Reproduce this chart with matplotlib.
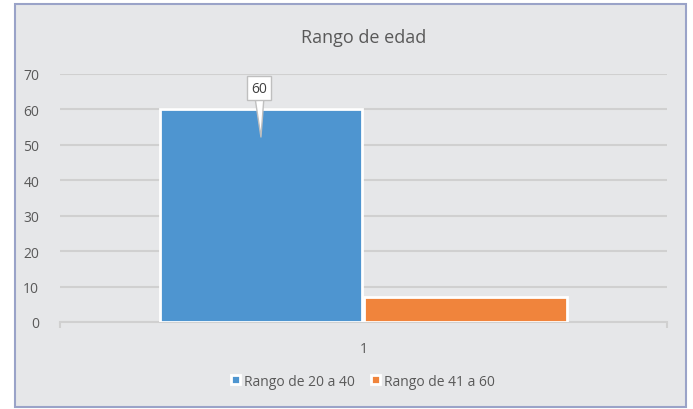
import matplotlib.pyplot as plt
from matplotlib.patches import Rectangle

# data
categories = ["1"]
series_names = ["Rango de 20 a 40", "Rango de 41 a 60"]
series_values = [60, 7]
colors = ["#4e95d0", "#f0843c"]

plt.rcParams['font.family'] = ['Open Sans', 'DejaVu Sans']

fig = plt.figure(figsize=(6.93, 4.10), dpi=100, facecolor="white")

# chart area border
fig.patches.append(Rectangle((15 / 693, 2 / 410), 671 / 693, 403 / 410,
                             transform=fig.transFigure, facecolor="#e6e7e9",
                             edgecolor="#9aa3c8", linewidth=1.5, zorder=-10))

ax = fig.add_axes([0.0866, 0.2122, 0.876, 0.605])
ax.set_facecolor("none")

width = 0.334
offsets = [-0.169, 0.168]
for name, val, col, off in zip(series_names, series_values, colors, offsets):
    ax.bar(0 + off, val, width=width, color=col, edgecolor="white",
           linewidth=2, label=name, zorder=3)

ax.set_xlim(-0.5, 0.5)
ax.set_ylim(0, 70)
ax.set_yticks(range(0, 71, 10))
ax.set_xticks([0])
ax.set_xticklabels(categories)
ax.set_xticks([-0.5, 0.5], minor=True)
ax.tick_params(axis="x", which="major", length=0, pad=14, labelsize=10, colors="#595959")
ax.tick_params(axis="x", which="minor", length=4, color="#d0d0d0", width=1.5)
ax.tick_params(axis="y", length=0, pad=15, labelsize=10, colors="#595959")
ax.grid(axis="y", color="#d0d0d0", linewidth=1.5, zorder=0)
for s in ["top", "right", "left"]:
    ax.spines[s].set_visible(False)
ax.spines["bottom"].set_color("#d0d0d0")
ax.spines["bottom"].set_linewidth(1.5)

# data callout
ax.annotate(str(series_values[0]), xy=(offsets[0], 52.2), xytext=(offsets[0] - 0.003, 66),
            ha="center", va="center", fontsize=10, color="#404040",
            bbox=dict(boxstyle="square,pad=0.3", fc="white", ec="#bfbfbf", lw=1),
            arrowprops=dict(arrowstyle="wedge,tail_width=0.6", fc="white", ec="#bfbfbf",
                            lw=1, shrinkA=0, shrinkB=0), zorder=5)

fig.text(0.524, 0.907, "Rango de edad", ha="center", va="center", fontsize=13, color="#595959")

leg = fig.legend(loc="center", bbox_to_anchor=(0.524, 0.068), ncol=2, frameon=False,
                 fontsize=10, handlelength=0.6, handleheight=0.6, handletextpad=0.3,
                 columnspacing=1.2, labelcolor="#595959")

fig.savefig("out.png", dpi=100, facecolor="white")
